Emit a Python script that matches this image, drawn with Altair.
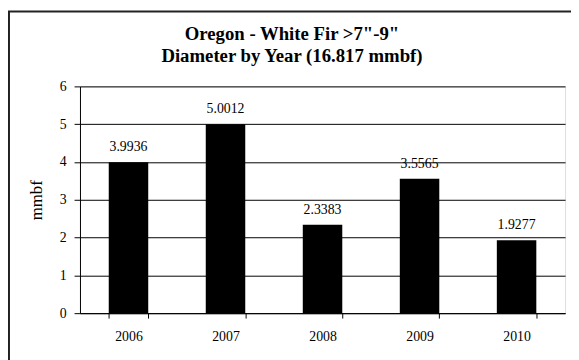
import altair as alt
import pandas as pd

years = ["2006", "2007", "2008", "2009", "2010"]
values = [3.9936, 5.0012, 2.3383, 3.5565, 1.9277]
y_ticks = [0, 1, 2, 3, 4, 5, 6]
title_lines = ["Oregon - White Fir >7\"-9\"", "Diameter by Year (16.817 mmbf)"]

df = pd.DataFrame({"year": years, "value": values})

FONT = "Liberation Serif"

x_enc = alt.X(
    "year:N",
    title=None,
    sort=years,
    scale=alt.Scale(paddingInner=0.593, paddingOuter=0.2965),
    axis=alt.Axis(
        labelAngle=0, tickBand="extent", tickSize=5, tickColor="black",
        domainColor="black", labelFont=FONT, labelFontSize=14,
        labelColor="black", labelPadding=12, grid=False,
    ),
)
y_enc = alt.Y(
    "value:Q",
    title="mmbf",
    scale=alt.Scale(domain=[0, 6], nice=False),
    axis=alt.Axis(
        values=y_ticks, tickSize=6, tickColor="black", domainColor="black",
        gridColor="black", gridWidth=1, labelFont=FONT, labelFontSize=14,
        labelColor="black", labelPadding=8, titleFont=FONT,
        titleFontSize=17, titleFontWeight="normal", titleColor="black",
        titlePadding=14, labelOverlap=False,
    ),
)

base = alt.Chart(df)

bars = base.mark_bar(color="black").encode(x=x_enc, y=y_enc)

labels = base.mark_text(
    dy=-11, baseline="alphabetic", font=FONT, fontSize=14, color="black"
).encode(
    x=x_enc,
    y=y_enc,
    text=alt.Text("value:Q", format=".4f"),
)

single = alt.Chart(alt.Data(values=[{"a": 1}]))

title1 = single.mark_text(
    text=title_lines[0], font=FONT, fontSize=19, fontWeight="bold",
    color="black", baseline="alphabetic", align="center",
).encode(x=alt.value(215), y=alt.value(-47))

title2 = single.mark_text(
    text=title_lines[1], font=FONT, fontSize=19, fontWeight="bold",
    color="black", baseline="alphabetic", align="center",
).encode(x=alt.value(215), y=alt.value(-25))

frame = single.mark_rect(
    filled=False, stroke="#222222", strokeWidth=2
).encode(
    x=alt.value(-72), x2=alt.value(700),
    y=alt.value(-76), y2=alt.value(500),
)

chart = alt.layer(bars, labels, title1, title2, frame).properties(
    width=492,
    height=230,
    autosize=alt.AutoSizeParams(type="none"),
    padding={"left": 73, "top": 77, "right": 6, "bottom": 45},
).configure_view(stroke="black", strokeWidth=1).configure(background="white")

chart.save("out.html", embed_options={"renderer": "svg", "actions": False})
